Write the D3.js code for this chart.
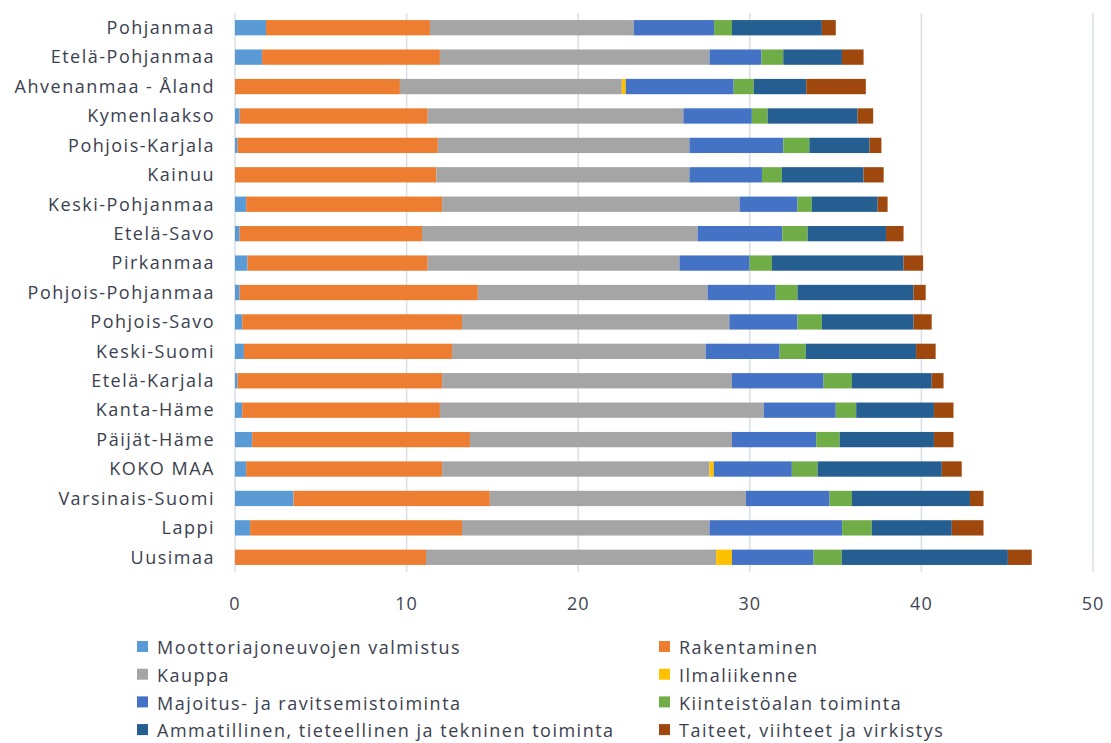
<!DOCTYPE html>
<html>
<head>
<meta charset="utf-8">
<script src="https://cdn.jsdelivr.net/npm/d3@7"></script>
<style>
  body { margin: 0; background: #fff; }
  text { font-family: "Open Sans", "Noto Sans", sans-serif; }
</style>
</head>
<body>
<script>
// regions, top to bottom
var regions = ["Pohjanmaa", "Etelä-Pohjanmaa", "Ahvenanmaa - Åland", "Kymenlaakso", "Pohjois-Karjala",
  "Kainuu", "Keski-Pohjanmaa", "Etelä-Savo", "Pirkanmaa", "Pohjois-Pohjanmaa", "Pohjois-Savo",
  "Keski-Suomi", "Etelä-Karjala", "Kanta-Häme", "Päijät-Häme", "KOKO MAA", "Varsinais-Suomi",
  "Lappi", "Uusimaa"];

var seriesNames = ["Moottoriajoneuvojen valmistus", "Rakentaminen", "Kauppa", "Ilmaliikenne",
  "Majoitus- ja ravitsemistoiminta", "Kiinteistöalan toiminta",
  "Ammatillinen, tieteellinen ja tekninen toiminta", "Taiteet, viihteet ja virkistys"];

var moottori   = [1.81, 1.58, 0, 0.27, 0.15, 0, 0.65, 0.27, 0.73, 0.27, 0.42, 0.52, 0.15, 0.42, 1.0, 0.65, 3.41, 0.88, 0];
var rakent     = [9.55, 10.36, 9.61, 10.96, 11.67, 11.74, 11.42, 10.63, 10.5, 13.88, 12.81, 12.13, 11.92, 11.52, 12.69, 11.42, 11.44, 12.35, 11.13];
var kauppa     = [11.88, 15.71, 12.93, 14.9, 14.66, 14.74, 17.33, 16.06, 14.67, 13.39, 15.58, 14.78, 16.89, 18.87, 15.27, 15.58, 14.92, 14.42, 16.91];
var ilmaliik   = [0, 0, 0.23, 0, 0, 0, 0, 0, 0, 0, 0, 0, 0, 0, 0, 0.25, 0, 0, 0.92];
var majoitus   = [4.68, 3.03, 6.29, 3.99, 5.47, 4.23, 3.38, 4.93, 4.09, 3.97, 3.97, 4.31, 5.34, 4.2, 4.91, 4.55, 4.88, 7.73, 4.76];
var kiinteisto = [1.04, 1.27, 1.17, 0.92, 1.52, 1.16, 0.83, 1.48, 1.3, 1.27, 1.42, 1.52, 1.65, 1.19, 1.37, 1.5, 1.3, 1.73, 1.64];
var ammat      = [5.24, 3.42, 3.06, 5.24, 3.51, 4.76, 3.84, 4.57, 7.67, 6.76, 5.34, 6.43, 4.65, 4.53, 5.49, 7.24, 6.88, 4.66, 9.68];
var taiteet    = [0.81, 1.26, 3.47, 0.91, 0.69, 1.17, 0.58, 1.02, 1.14, 0.71, 1.06, 1.14, 0.69, 1.14, 1.14, 1.16, 0.79, 1.85, 1.39];

var colors = ["#5b9bd5", "#ed7d31", "#a5a5a5", "#ffc000", "#4472c4", "#70ad47", "#255e91", "#9e480e"];
var xTicks = [0, 10, 20, 30, 40, 50];

var allSeries = [moottori, rakent, kauppa, ilmaliik, majoitus, kiinteisto, ammat, taiteet];
var rows = regions.map(function (r, i) {
  var o = { region: r };
  seriesNames.forEach(function (s, k) { o[s] = allSeries[k][i]; });
  return o;
});

var W = 1111, H = 743;
var margin = { top: 13, left: 235, right: 18, bottom: 171 };

var svg = d3.select("body").append("svg")
  .attr("width", W).attr("height", H);

var x = d3.scaleLinear().domain([0, 50]).range([margin.left, 1093]);
var y = d3.scaleBand().domain(regions).range([margin.top, H - margin.bottom]).paddingInner(0.48).paddingOuter(0.24);

// gridlines
svg.append("g").selectAll("line")
  .data(xTicks)
  .enter().append("line")
  .attr("x1", function (d) { return x(d); })
  .attr("x2", function (d) { return x(d); })
  .attr("y1", margin.top)
  .attr("y2", H - margin.bottom)
  .attr("stroke", "#d9dee7")
  .attr("stroke-width", 1.5);

var stack = d3.stack().keys(seriesNames)(rows);

svg.append("g").selectAll("g")
  .data(stack)
  .enter().append("g")
  .attr("fill", function (d, i) { return colors[i]; })
  .selectAll("rect")
  .data(function (d) { return d; })
  .enter().append("rect")
  .attr("x", function (d) { return x(d[0]); })
  .attr("width", function (d) { return Math.max(0, x(d[1]) - x(d[0])); })
  .attr("y", function (d) { return y(d.data.region); })
  .attr("height", y.bandwidth());

// x tick labels
svg.append("g").selectAll("text")
  .data(xTicks)
  .enter().append("text")
  .attr("x", function (d) { return x(d); })
  .attr("y", 604)
  .attr("dy", "0.35em")
  .attr("text-anchor", "middle")
  .attr("font-size", 18)
  .attr("letter-spacing", 1)
  .attr("fill", "#404652")
  .text(function (d) { return d; });

// category labels
svg.append("g").selectAll("text")
  .data(regions)
  .enter().append("text")
  .attr("x", 215)
  .attr("y", function (d) { return y(d) + y.bandwidth() / 2; })
  .attr("dy", "0.35em")
  .attr("text-anchor", "end")
  .attr("font-size", 18)
  .attr("letter-spacing", 1.5)
  .attr("fill", "#3b4150")
  .text(function (d) { return d; });

// legend
var legend = svg.append("g").selectAll("g")
  .data(seriesNames)
  .enter().append("g")
  .attr("transform", function (d, i) {
    return "translate(" + (i % 2 === 0 ? 137 : 659) + "," + (648 + Math.floor(i / 2) * 27.7) + ")";
  });
legend.append("rect")
  .attr("x", 0).attr("y", -7)
  .attr("width", 11).attr("height", 11)
  .attr("fill", function (d, i) { return colors[i]; });
legend.append("text")
  .attr("x", 20).attr("y", 0)
  .attr("dy", "0.35em")
  .attr("font-size", 18)
  .attr("letter-spacing", 1.5)
  .attr("fill", "#3b4150")
  .text(function (d) { return d; });
</script>
</body>
</html>
